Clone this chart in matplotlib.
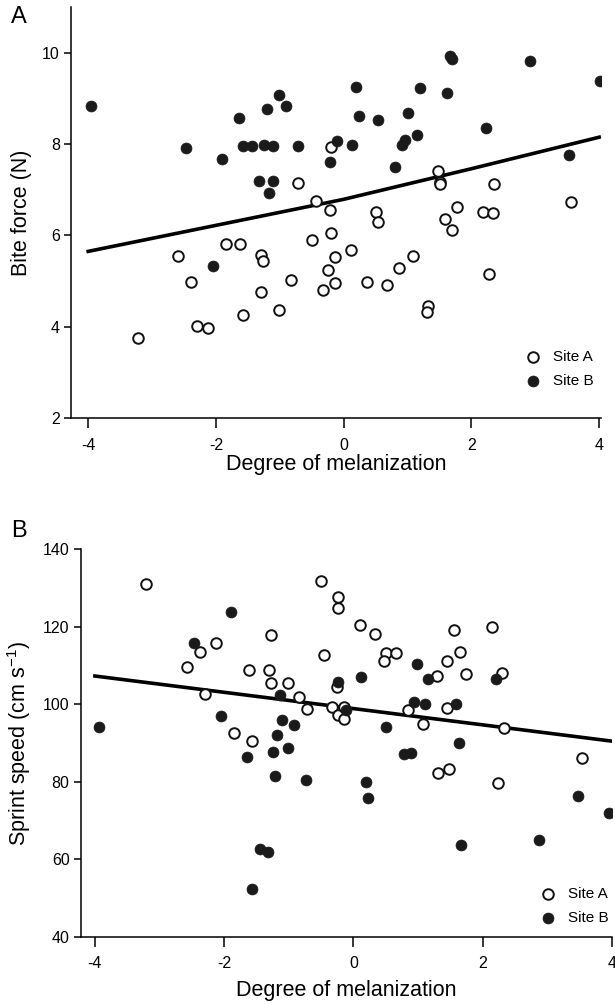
import matplotlib
matplotlib.use('Agg')
import matplotlib.pyplot as plt
import numpy as np

plt.rcParams['font.family'] = ['Liberation Sans', 'DejaVu Sans']
plt.rcParams['mathtext.default'] = 'regular'

# Panel A - bite force vs. melanization
a_site_a_x = [-3.22, -2.59, -2.39, -2.30, -2.12, -1.85, -1.62, -1.57, -1.30, -1.27, -1.29,
              -1.02, -0.83, -0.71, -0.49, -0.44, -0.21, -0.20, -0.20, -0.14, -0.24, -0.32,
              -0.14, 0.12, 0.36, 0.50, 0.53, 0.68, 0.86, 1.09, 1.32, 1.31, 1.48, 1.50, 1.51,
              1.59, 1.69, 1.77, 2.18, 2.33, 2.36, 2.27, 3.56]
a_site_a_y = [3.76, 5.55, 4.99, 4.01, 3.97, 5.82, 5.81, 4.25, 5.58, 5.44, 4.75,
              4.37, 5.03, 7.14, 5.89, 6.76, 6.56, 7.93, 6.06, 5.53, 5.25, 4.81,
              4.95, 5.68, 4.97, 6.52, 6.29, 4.91, 5.29, 5.54, 4.46, 4.33, 7.41, 7.17, 7.12,
              6.35, 6.12, 6.63, 6.52, 6.50, 7.12, 5.15, 6.73]
a_site_b_x = [-3.96, -2.47, -2.05, -1.90, -1.64, -1.57, -1.44, -1.25, -1.11, -1.32, -1.11,
              -1.17, -1.20, -1.02, -0.91, -0.72, -0.21, -0.11, 0.13, 0.20, 0.24, 0.53, 0.81,
              0.91, 0.96, 1.01, 1.15, 1.19, 1.62, 1.67, 1.70, 2.23, 2.92, 3.52, 4.01]
a_site_b_y = [8.84, 7.91, 5.32, 7.67, 8.58, 7.96, 7.96, 7.98, 7.95, 7.20, 7.20,
              6.92, 8.77, 9.08, 8.84, 7.95, 7.61, 8.07, 7.98, 9.24, 8.61, 8.53, 7.50,
              7.98, 8.09, 8.67, 8.20, 9.22, 9.11, 9.93, 9.87, 8.36, 9.82, 7.76, 9.37]
a_fit_x = [-4, -2, 0, 2, 4]
a_fit_y = [5.65, 6.22, 6.79, 7.46, 8.15]

# Panel B - sprint speed vs. melanization
b_site_a_x = [-3.21, -0.50, -0.24, -0.24, -1.27, -2.12, -2.38, -0.45, -2.57, -1.62, -1.30,
              -1.28, -1.02, -2.29, -0.84, -0.72, -0.25, -0.33, -1.85, -1.57, -0.24, -0.15,
              -0.15, 0.10, 0.33, 0.50, 0.66, 0.47, 0.84, 1.07, 1.29, 1.56, 2.14, 1.65, 1.45,
              1.74, 2.30, 1.45, 2.33, 3.53, 2.23, 1.31, 1.47]
b_site_a_y = [131.0, 131.9, 127.6, 124.9, 118.0, 115.9, 113.5, 112.7, 109.7, 108.9, 108.8,
              105.4, 105.6, 102.6, 101.9, 98.9, 104.5, 99.4, 92.7, 90.6, 97.2, 99.2,
              96.1, 120.5, 118.1, 113.2, 113.2, 111.3, 98.5, 94.8, 107.4, 119.1, 119.9, 113.6, 111.2,
              107.9, 108.0, 99.1, 94.0, 86.1, 79.8, 82.2, 83.2]
b_site_b_x = [-3.94, -1.90, -2.46, -1.13, -0.24, -2.05, -1.11, -0.92, -1.18, -1.65, -1.25,
              -1.02, -1.21, -0.74, -1.45, -1.33, -1.57, 0.11, -0.12, 0.98, 1.16, 0.93, 1.11,
              0.51, 0.78, 0.89, 2.20, 1.58, 1.64, 0.19, 0.23, 1.66, 2.87, 3.47, 3.96]
b_site_b_y = [94.1, 123.8, 115.9, 102.5, 105.8, 97.1, 95.9, 94.7, 92.2, 86.3, 87.6,
              88.7, 81.6, 80.4, 62.6, 61.9, 52.4, 107.1, 98.5, 110.3, 106.5, 100.7, 100.0,
              94.1, 87.1, 87.4, 106.6, 100.2, 89.9, 80.0, 75.9, 63.8, 65.1, 76.4, 72.1]
b_fit_x = [-4, 4]
b_fit_y = [107.3, 90.5]

fig = plt.figure(figsize=(6.15, 10.05), dpi=100)
ax_a = fig.add_axes([0.1154, 0.584, 0.862, 0.409])
ax_b = fig.add_axes([0.1312, 0.0677, 0.864, 0.3858])


def style_panel(ax):
    for side in ['top', 'right']:
        ax.spines[side].set_visible(False)
    for side in ['left', 'bottom']:
        ax.spines[side].set_linewidth(1.1)
    ax.tick_params(axis='x', direction='out', length=7, width=1.1, labelsize=11.5, pad=7)
    ax.tick_params(axis='y', direction='out', length=5, width=1.1, labelsize=11.5, pad=3)
    ax.set_xticks([-4, -2, 0, 2, 4])
    ax.set_xticklabels(['-4', '-2', '0', '2', '4'])


def draw_panel(ax, ax_x, ax_y, bx, by, fx, fy):
    ax.plot(fx, fy, color='black', lw=2.6, zorder=2)
    ax.scatter(ax_x, ax_y, s=58, facecolor='white', edgecolor='#111111', linewidth=1.4,
               label='Site A', zorder=3)
    ax.scatter(bx, by, s=62, facecolor='#1a1a1a', edgecolor='#1a1a1a', linewidth=0.5,
               label='Site B', zorder=3)


draw_panel(ax_a, a_site_a_x, a_site_a_y, a_site_b_x, a_site_b_y, a_fit_x, a_fit_y)
style_panel(ax_a)
ax_a.set_xlim(-4.27, 4.03)
ax_a.set_ylim(2, 11)
ax_a.set_yticks([2, 4, 6, 8, 10])
ax_a.set_xlabel('Degree of melanization', fontsize=15.5, labelpad=1)
ax_a.set_ylabel('Bite force (N)', fontsize=15.5, labelpad=7)
ax_a.legend(loc='lower right', bbox_to_anchor=(1.012, 0.04), frameon=False, fontsize=11,
            handletextpad=0.3, labelspacing=0.65, markerscale=1.0)
fig.text(0.018, 0.977, 'A', fontsize=17)

draw_panel(ax_b, b_site_a_x, b_site_a_y, b_site_b_x, b_site_b_y, b_fit_x, b_fit_y)
style_panel(ax_b)
ax_b.set_xlim(-4.22, 4.0)
ax_b.set_ylim(40, 140)
ax_b.set_yticks([40, 60, 80, 100, 120, 140])
ax_b.set_xlabel('Degree of melanization', fontsize=15.5, labelpad=6)
ax_b.set_ylabel('Sprint speed (cm s$^{-1}$)', fontsize=15.5, labelpad=7)
ax_b.legend(loc='lower right', bbox_to_anchor=(1.02, -0.005), frameon=False, fontsize=11,
            handletextpad=0.3, labelspacing=0.65, markerscale=1.0)
fig.text(0.018, 0.466, 'B', fontsize=17)

fig.savefig('out.png', dpi=100)
